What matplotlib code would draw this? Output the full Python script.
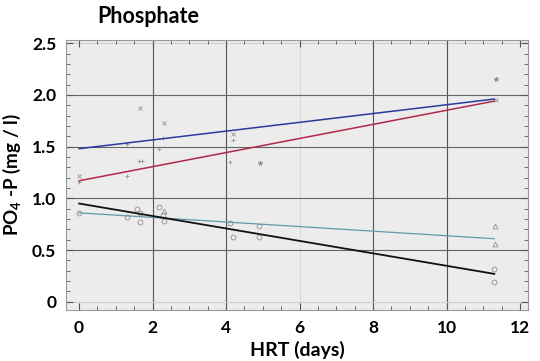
import matplotlib
matplotlib.use('Agg')
import matplotlib.pyplot as plt
from matplotlib.ticker import MultipleLocator

plt.rcParams['font.family'] = ['Lato', 'DejaVu Sans']
plt.rcParams['mathtext.fontset'] = 'custom'
plt.rcParams['mathtext.bf'] = 'Lato:bold'
plt.rcParams['mathtext.rm'] = 'Lato'

# regression lines (start / end of HRT range)
hrt_fit = [0.0, 11.3]
fit_blue = [1.48, 1.96]
fit_red = [1.17, 1.94]
fit_teal = [0.86, 0.61]
fit_black = [0.95, 0.27]

# measured points, grouped by symbol
hrt_cross = [0.0, 1.65, 2.31, 4.2, 11.35]
po4_cross = [1.22, 1.87, 1.73, 1.62, 1.95]
hrt_star = [4.92, 11.35]
po4_star = [1.34, 2.15]
hrt_plus = [0.0, 1.29, 1.29, 1.64, 1.72, 2.18, 2.29, 4.1, 4.2]
po4_plus = [1.16, 1.53, 1.22, 1.36, 1.36, 1.48, 1.58, 1.35, 1.56]
hrt_circ = [0.0, 1.29, 1.58, 1.67, 1.65, 2.18, 2.29, 2.31, 4.1, 4.2, 4.9, 4.9, 11.3, 11.3]
po4_circ = [0.86, 0.82, 0.90, 0.86, 0.77, 0.92, 0.84, 0.78, 0.76, 0.63, 0.73, 0.63, 0.32, 0.19]
hrt_tri = [11.33, 11.33, 2.31]
po4_tri = [0.73, 0.56, 0.88]

fig = plt.figure(figsize=(5.4, 3.61), dpi=100)
ax = fig.add_axes([0.122, 0.141, 0.856, 0.748])
ax.set_facecolor('#ececec')

# grid
for gx in [2, 4, 8, 10]:
    ax.axvline(gx, color='#555555', lw=0.8, zorder=1)
ax.axvline(6, color='#dadada', lw=0.8, zorder=1)
for gy in [0.5, 1.0, 1.5, 2.0]:
    ax.axhline(gy, color='#666666', lw=0.8, zorder=1)
for gy in [0.0, 2.5]:
    ax.axhline(gy, color='#cfcfcf', lw=0.8, zorder=1)

pt = dict(color='#909090', linestyle='none', markersize=3.5, markeredgewidth=0.6, zorder=3)
ax.plot(hrt_cross, po4_cross, marker='x', **pt)
ax.plot(hrt_star, po4_star, marker='*', **pt)
ax.plot(hrt_plus, po4_plus, marker='+', **pt)
ax.plot(hrt_circ, po4_circ, marker='o', markerfacecolor='none', **pt)
ax.plot(hrt_tri, po4_tri, marker='^', markerfacecolor='none', **pt)

ax.plot(hrt_fit, fit_blue, color='#2a3a9a', lw=1.1, zorder=4)
ax.plot(hrt_fit, fit_red, color='#b02a4a', lw=1.1, zorder=4)
ax.plot(hrt_fit, fit_teal, color='#5f9aa6', lw=0.9, zorder=4)
ax.plot(hrt_fit, fit_black, color='#111111', lw=1.3, zorder=4)

ax.set_xlim(-0.36, 12.22)
ax.set_ylim(-0.08, 2.53)
ax.xaxis.set_major_locator(MultipleLocator(2))
ax.xaxis.set_minor_locator(MultipleLocator(0.5))
ax.yaxis.set_major_locator(MultipleLocator(0.5))
ax.yaxis.set_minor_locator(MultipleLocator(0.1))
ax.set_yticks([0, 0.5, 1.0, 1.5, 2.0, 2.5])
ax.set_yticklabels(['0', '0.5', '1.0', '1.5', '2.0', '2.5'])
ax.tick_params(which='both', direction='in', top=True, right=True, color='#555555')
ax.tick_params(which='major', length=5, labelsize=12.5, pad=7)
ax.tick_params(which='minor', length=3)
for lab in ax.get_xticklabels() + ax.get_yticklabels():
    lab.set_fontweight('bold')
for s in ax.spines.values():
    s.set_color('#999999')

ax.set_xlabel('HRT (days)', fontsize=14, fontweight='bold', labelpad=4)
ax.set_ylabel('PO$_\\mathbf{4}$ -P (mg / l)', fontsize=13.5, fontweight='bold', labelpad=6)
fig.text(0.18, 0.955, 'Phosphate', fontsize=15.5, fontweight='bold', va='center', ha='left')

fig.savefig('out.png', dpi=100)
